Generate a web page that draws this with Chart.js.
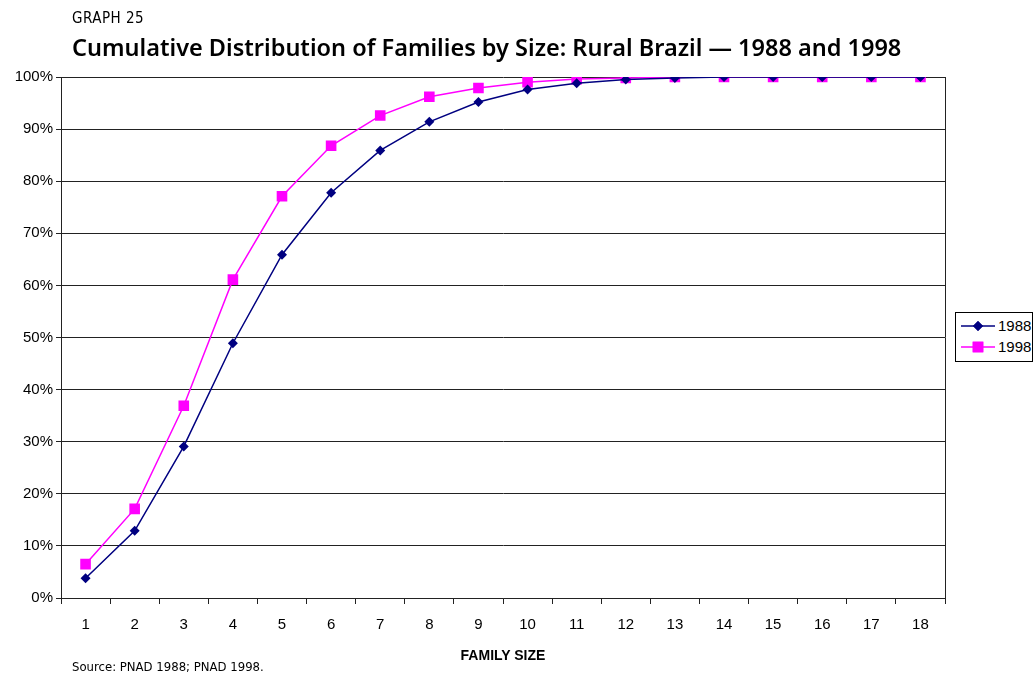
<!DOCTYPE html>
<html>
<head>
<meta charset="utf-8">
<script src="https://cdn.jsdelivr.net/npm/chart.js@4/dist/chart.umd.min.js"></script>
<style>
  html, body { margin: 0; padding: 0; background: #fff; }
  #wrap { position: relative; width: 1036px; height: 677px; overflow: hidden; }
  #chart { position: absolute; left: 0; top: 0; }
  .label { position: absolute; color: #000; white-space: nowrap; }
  #kicker { left: 72px; top: 9px; font: 300 15px "Liberation Sans Narrow", "DejaVu Sans Condensed", sans-serif; letter-spacing: 0.5px; }
  #title { left: 72px; top: 31px; font: 600 23.5px "Noto Sans", "Open Sans", sans-serif; }
  #xtitle { left: 503px; top: 647px; transform: translateX(-50%); font: bold 14px "Liberation Sans", Arial, sans-serif; }
  #source { left: 72px; top: 659px; font: 13px "Liberation Sans Narrow", "DejaVu Sans Condensed", sans-serif; }
  #legend { position: absolute; left: 955px; top: 312px; width: 78px; height: 50px; border: 1px solid #000; box-sizing: border-box; background: #fff; }
  .lg { position: absolute; left: 4px; height: 20px; width: 72px; font: 15px "Liberation Sans", Arial, sans-serif; }
  .lg canvas { position: absolute; left: 0; top: 0; }
  .lg span { position: absolute; left: 38px; top: 1px; }
</style>
</head>
<body>
<div id="wrap">
  <canvas id="chart" width="1036" height="677"></canvas>
  <div class="label" id="kicker">GRAPH 25</div>
  <div class="label" id="title">Cumulative Distribution of Families by Size: Rural Brazil — 1988 and 1998</div>
  <div class="label" id="xtitle">FAMILY SIZE</div>
  <div class="label" id="source">Source: PNAD 1988; PNAD 1998.</div>
  <div id="legend">
    <div class="lg" style="top:3px"><canvas id="lg1" width="36" height="20"></canvas><span>1988</span></div>
    <div class="lg" style="top:24px"><canvas id="lg2" width="36" height="20"></canvas><span>1998</span></div>
  </div>
</div>
<script>
"use strict";

// Family size categories (x axis)
const familySizes = ["1","2","3","4","5","6","7","8","9","10","11","12","13","14","15","16","17","18"];

// Cumulative share of families (%)
const cum1988 = [3.8, 12.9, 29.1, 48.9, 65.9, 77.8, 85.9, 91.4, 95.2, 97.6, 98.8, 99.5, 99.8, 100, 100, 100, 100, 100];
const cum1998 = [6.5, 17.1, 36.9, 61.1, 77.1, 86.8, 92.6, 96.2, 97.9, 99.0, 99.6, 99.8, 100, 100, 100, 100, 100, 100];

// Y axis ticks: 0% .. 100% every 10
const yTicks = { min: 0, max: 100, step: 10 };

const C = {
  navy: "#000080",
  magenta: "#ff00ff",
  grid: "#222",
  text: "#000",
};

const FONT = "'Liberation Sans', Arial, sans-serif";

new Chart(document.getElementById("chart"), {
  type: "line",
  data: {
    labels: familySizes,
    datasets: [
      {
        label: "1988",
        data: cum1988,
        borderColor: C.navy,
        backgroundColor: C.navy,
        borderWidth: 1.5,
        pointStyle: "rectRot",
        pointRadius: 5,
        pointBorderWidth: 0,
        tension: 0,
      },
      {
        label: "1998",
        data: cum1998,
        borderColor: C.magenta,
        backgroundColor: C.magenta,
        borderWidth: 1.5,
        pointStyle: "rect",
        pointRadius: 7.5,
        pointBorderWidth: 0,
        tension: 0,
      },
    ],
  },
  options: {
    responsive: false,
    animation: false,
    devicePixelRatio: 1,
    layout: { padding: { top: 77, right: 91, bottom: 39, left: 0 } },
    plugins: {
      legend: { display: false },
      tooltip: { enabled: false },
    },
    scales: {
      x: {
        offset: true,
        grid: {
          offset: true,
          drawOnChartArea: false,
          color: C.grid,
          tickLength: 6,
        },
        border: { color: C.grid, width: 1 },
        ticks: {
          color: C.text,
          font: { family: FONT, size: 15 },
          padding: 12,
          maxRotation: 0,
        },
        afterFit(scale) { scale.height = 40; },
      },
      y: {
        min: yTicks.min,
        max: yTicks.max,
        grid: {
          color: C.grid,
          lineWidth: 1,
          tickLength: 5,
        },
        border: { color: C.grid, width: 1 },
        ticks: {
          stepSize: yTicks.step,
          color: C.text,
          font: { family: FONT, size: 15 },
          padding: 3,
          callback: (v) => v + "%",
        },
        afterFit(scale) { scale.width = 61; },
      },
    },
  },
  plugins: [{
    // right edge line of the plot area
    id: "rightEdge",
    afterDraw(chart) {
      const { ctx, chartArea } = chart;
      ctx.save();
      ctx.strokeStyle = C.grid;
      ctx.lineWidth = 1;
      ctx.beginPath();
      ctx.moveTo(Math.round(chartArea.right) + 0.5, chartArea.top);
      ctx.lineTo(Math.round(chartArea.right) + 0.5, chartArea.bottom);
      ctx.stroke();
      ctx.restore();
    },
  }],
});

// Legend swatches drawn with the same markers as the series
function swatch(id, color, style, r) {
  const ctx = document.getElementById(id).getContext("2d");
  ctx.strokeStyle = color;
  ctx.lineWidth = 1.5;
  ctx.beginPath();
  ctx.moveTo(1, 10);
  ctx.lineTo(35, 10);
  ctx.stroke();
  ctx.fillStyle = color;
  Chart.helpers.drawPoint(ctx, { pointStyle: style, radius: r, borderWidth: 0 }, 18, 10);
  ctx.fill();
}
swatch("lg1", C.navy, "rectRot", 5);
swatch("lg2", C.magenta, "rect", 7.5);
</script>
</body>
</html>
